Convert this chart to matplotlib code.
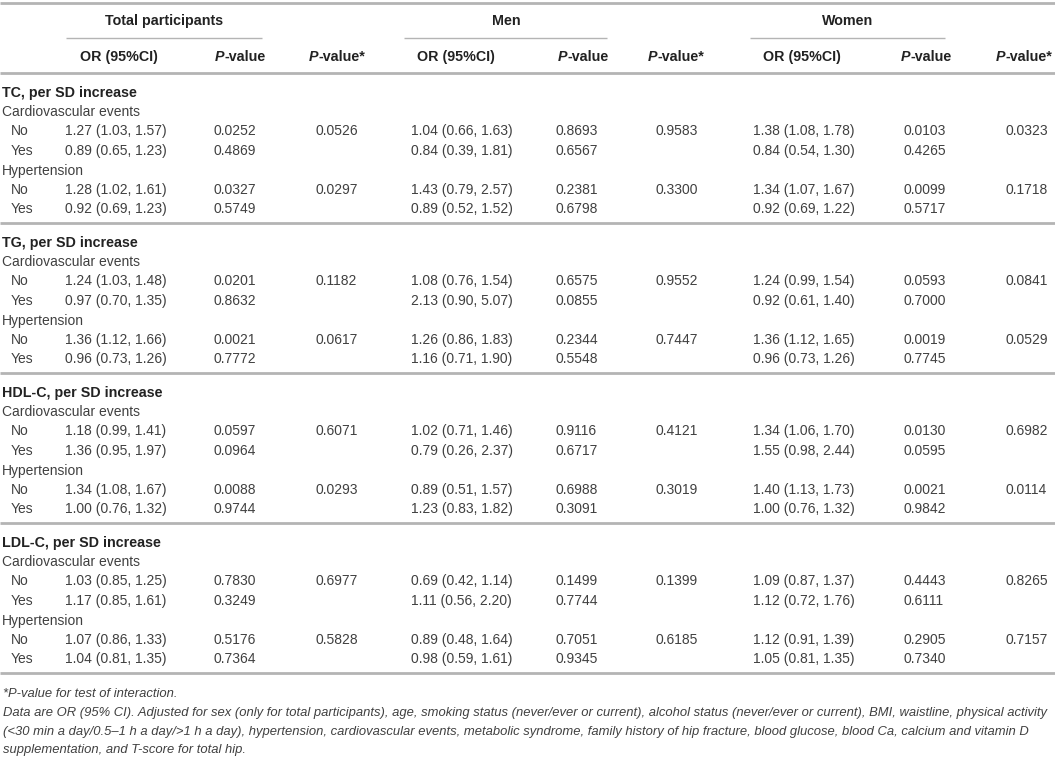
import matplotlib
matplotlib.use("Agg")
import matplotlib.pyplot as plt

plt.rcParams['font.family'] = ['Liberation Sans', 'DejaVu Sans']

# ---------------- data ----------------
groups = ["Total participants", "Men", "Women"]
col_headers = ["OR (95%CI)", "P-value", "P-value*"]
sections = ["TC, per SD increase", "TG, per SD increase",
            "HDL-C, per SD increase", "LDL-C, per SD increase"]
outcomes = ["Cardiovascular events", "Hypertension"]
levels = ["No", "Yes"]

total_or = ["1.27 (1.03, 1.57)", "0.89 (0.65, 1.23)", "1.28 (1.02, 1.61)", "0.92 (0.69, 1.23)",
            "1.24 (1.03, 1.48)", "0.97 (0.70, 1.35)", "1.36 (1.12, 1.66)", "0.96 (0.73, 1.26)",
            "1.18 (0.99, 1.41)", "1.36 (0.95, 1.97)", "1.34 (1.08, 1.67)", "1.00 (0.76, 1.32)",
            "1.03 (0.85, 1.25)", "1.17 (0.85, 1.61)", "1.07 (0.86, 1.33)", "1.04 (0.81, 1.35)"]
total_p = ["0.0252", "0.4869", "0.0327", "0.5749",
           "0.0201", "0.8632", "0.0021", "0.7772",
           "0.0597", "0.0964", "0.0088", "0.9744",
           "0.7830", "0.3249", "0.5176", "0.7364"]
total_pint = ["0.0526", "0.0297", "0.1182", "0.0617", "0.6071", "0.0293", "0.6977", "0.5828"]

men_or = ["1.04 (0.66, 1.63)", "0.84 (0.39, 1.81)", "1.43 (0.79, 2.57)", "0.89 (0.52, 1.52)",
          "1.08 (0.76, 1.54)", "2.13 (0.90, 5.07)", "1.26 (0.86, 1.83)", "1.16 (0.71, 1.90)",
          "1.02 (0.71, 1.46)", "0.79 (0.26, 2.37)", "0.89 (0.51, 1.57)", "1.23 (0.83, 1.82)",
          "0.69 (0.42, 1.14)", "1.11 (0.56, 2.20)", "0.89 (0.48, 1.64)", "0.98 (0.59, 1.61)"]
men_p = ["0.8693", "0.6567", "0.2381", "0.6798",
         "0.6575", "0.0855", "0.2344", "0.5548",
         "0.9116", "0.6717", "0.6988", "0.3091",
         "0.1499", "0.7744", "0.7051", "0.9345"]
men_pint = ["0.9583", "0.3300", "0.9552", "0.7447", "0.4121", "0.3019", "0.1399", "0.6185"]

women_or = ["1.38 (1.08, 1.78)", "0.84 (0.54, 1.30)", "1.34 (1.07, 1.67)", "0.92 (0.69, 1.22)",
            "1.24 (0.99, 1.54)", "0.92 (0.61, 1.40)", "1.36 (1.12, 1.65)", "0.96 (0.73, 1.26)",
            "1.34 (1.06, 1.70)", "1.55 (0.98, 2.44)", "1.40 (1.13, 1.73)", "1.00 (0.76, 1.32)",
            "1.09 (0.87, 1.37)", "1.12 (0.72, 1.76)", "1.12 (0.91, 1.39)", "1.05 (0.81, 1.35)"]
women_p = ["0.0103", "0.4265", "0.0099", "0.5717",
           "0.0593", "0.7000", "0.0019", "0.7745",
           "0.0130", "0.0595", "0.0021", "0.9842",
           "0.4443", "0.6111", "0.2905", "0.7340"]
women_pint = ["0.0323", "0.1718", "0.0841", "0.0529", "0.6982", "0.0114", "0.8265", "0.7157"]

footnotes = [
    "*P-value for test of interaction.",
    "Data are OR (95% CI). Adjusted for sex (only for total participants), age, smoking status (never/ever or current), alcohol status (never/ever or current), BMI, waistline, physical activity",
    "(<30 min a day/0.5\u20131 h a day/>1 h a day), hypertension, cardiovascular events, metabolic syndrome, family history of hip fracture, blood glucose, blood Ca, calcium and vitamin D",
    "supplementation, and T-score for total hip.",
]

# ---------------- layout ----------------
W, H = 1055, 757
fig = plt.figure(figsize=(W / 100, H / 100), dpi=100)
ax = fig.add_axes([0, 0, 1, 1])
ax.set_xlim(0, W)
ax.set_ylim(H, 0)
ax.axis('off')
renderer = fig.canvas.get_renderer()

DATA_C = '#404040'
HEAD_C = '#222222'
LINE_C = '#b4b4b4'
FS = 10.0
FSH = 10.3
BL = 5     # center-to-baseline offset (px)

group_centers = [164, 506, 848]
group_lines = [(66, 262), (404, 607), (750, 945)]
head_centers = [[119, 240, 337], [456, 583, 676], [802, 926, 1024]]
data_left = [[65, 213, 316], [411, 556, 656], [753, 903, 1006]]


def T(x, y, s, **kw):
    return ax.text(x, round(y) + BL, s, va='baseline', **kw)


def text_width(s, **kw):
    t = ax.text(0, 0, s, **kw)
    w = t.get_window_extent(renderer).width
    t.remove()
    return w


def runs(xc, y, parts):
    widths = [text_width(s, **kw) for s, kw in parts]
    x = xc - sum(widths) / 2
    for (s, kw), w in zip(parts, widths):
        T(x, y, s, ha='left', **kw)
        x += w


def hline(y, x0, x1, lw):
    ax.plot([x0, x1], [y, y], color=LINE_C, lw=lw, solid_capstyle='butt')


# top line
hline(3, 0, W, 2.0)
bold = dict(fontsize=FSH, fontweight='bold', color=HEAD_C)
bold_it = dict(fontsize=FSH, fontweight='bold', fontstyle='italic', color=HEAD_C)
plain = dict(fontsize=FS, color=DATA_C)

for g, xc, (x0, x1) in zip(groups, group_centers, group_lines):
    T(xc, 20, g, ha='center', **bold)
    hline(38, x0, x1, 1.0)

for gi in range(3):
    for ci, h in enumerate(col_headers):
        xc = head_centers[gi][ci]
        if h.startswith("P"):
            runs(xc, 56, [("P", bold_it), (h[1:], bold)])
        else:
            T(xc, 56, h, ha='center', **bold)
hline(72.5, 0, W, 2.0)

or_cols = [total_or, men_or, women_or]
p_cols = [total_p, men_p, women_p]
pint_cols = [total_pint, men_pint, women_pint]

block0 = 72.5
period = 150
step = 19.5
for si, sec in enumerate(sections):
    top = block0 + si * period
    T(2, top + 19, sec, ha='left', **bold)
    k = 0
    for oi, oc in enumerate(outcomes):
        k += 1
        T(2, top + 19 + step * k, oc, ha='left', **plain)
        for li, lv in enumerate(levels):
            k += 1
            y = top + 19 + step * k
            ri = si * 4 + oi * 2 + li
            T(11, y, lv, ha='left', **plain)
            for gi in range(3):
                T(data_left[gi][0], y, or_cols[gi][ri], ha='left', **plain)
                T(data_left[gi][1], y, p_cols[gi][ri], ha='left', **plain)
                if li == 0:
                    T(data_left[gi][2], y, pint_cols[gi][si * 2 + oi], ha='left', **plain)
    hline(top + period, 0, W, 2.0)

# footnotes (fit width of the longest line)
fw = text_width(footnotes[1], fontsize=10, fontstyle='italic')
ffs = 10 * 1046 / fw
foot_y = [693, 712, 731, 749]
for s, y in zip(footnotes, foot_y):
    ax.text(3, y + 4, s, ha='left', va='baseline', fontsize=ffs, fontstyle='italic', color=DATA_C)

fig.savefig("out.png", dpi=100)
